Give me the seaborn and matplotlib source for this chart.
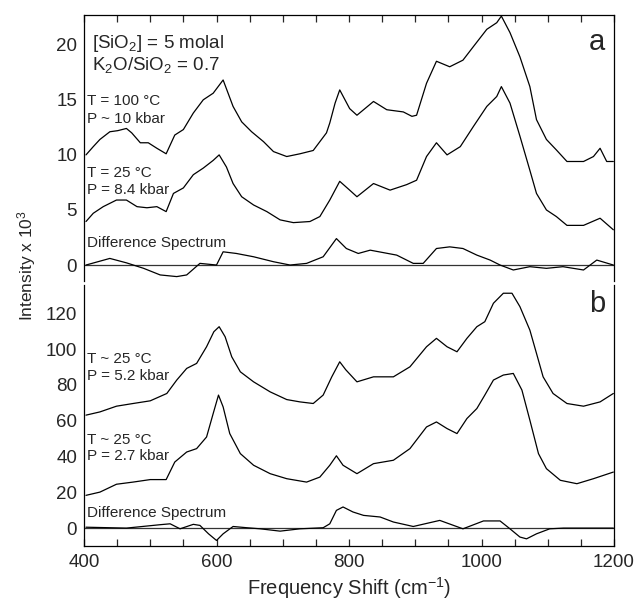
import matplotlib
matplotlib.use("Agg")
import matplotlib.pyplot as plt
from matplotlib.ticker import MultipleLocator
import seaborn as sns
import pandas as pd

# ---- data ----
# Panel a
a_hot_x = [403, 414, 424, 439, 451, 464, 472, 485, 497, 510, 524, 537, 550, 565, 580, 595, 610, 625, 638, 653,
           671, 686, 706, 726, 746, 766, 771, 779, 786, 801, 812, 837, 857, 882, 895, 902, 917, 932, 952, 972,
           988, 1008, 1023, 1030, 1043, 1058, 1073, 1083, 1098, 1113, 1129, 1154, 1169, 1179, 1189, 1199]
a_hot_y = [10.0, 10.75, 11.4, 12.1, 12.2, 12.4, 12.0, 11.1, 11.1, 10.6, 10.1, 11.8, 12.3, 13.8, 15.0, 15.6, 16.8, 14.4, 13.0, 12.1,
           11.2, 10.3, 9.85, 10.1, 10.4, 12.0, 12.9, 14.7, 15.9, 14.2, 13.6, 14.85, 14.1, 13.9, 13.5, 13.6, 16.5, 18.5, 18.0, 18.6,
           19.85, 21.4, 22.0, 22.6, 21.1, 18.9, 16.2, 13.2, 11.4, 10.45, 9.4, 9.4, 9.85, 10.6, 9.4, 9.4]

a_cold_x = [403, 414, 429, 449, 464, 480, 495, 510, 524, 535, 550, 565, 580, 595, 604, 615, 625, 638, 656, 676,
            696, 716, 741, 756, 771, 786, 801, 812, 837, 862, 887, 902, 917, 932, 948, 968, 988, 1008, 1023, 1030,
            1043, 1058, 1073, 1083, 1098, 1113, 1129, 1154, 1179, 1199]
a_cold_y = [3.95, 4.7, 5.3, 5.9, 5.9, 5.3, 5.2, 5.3, 4.85, 6.5, 7.0, 8.2, 8.8, 9.5, 10.0, 8.9, 7.4, 6.2, 5.45, 4.85,
            4.1, 3.85, 3.95, 4.4, 5.9, 7.6, 6.8, 6.2, 7.4, 6.8, 7.3, 7.7, 9.85, 11.1, 10.0, 10.75, 12.6, 14.4, 15.3, 16.2,
            14.7, 11.7, 8.6, 6.5, 5.0, 4.4, 3.6, 3.6, 4.25, 3.2]

a_diff_x = [403, 439, 464, 490, 515, 540, 555, 575, 600, 610, 630, 656, 686, 711, 736, 761, 781, 796, 814, 832,
            872, 897, 912, 932, 952, 972, 993, 1013, 1028, 1048, 1073, 1098, 1123, 1154, 1174, 1199]
a_diff_y = [0.0, 0.6, 0.2, -0.3, -0.9, -1.05, -0.9, 0.15, 0.0, 1.2, 1.05, 0.75, 0.3, 0.0, 0.15, 0.75, 2.4, 1.5, 1.05, 1.35,
            0.9, 0.15, 0.15, 1.5, 1.65, 1.5, 0.9, 0.45, 0.0, -0.45, -0.15, -0.3, -0.15, -0.45, 0.45, 0.0]

# Panel b
b_hi_x = [403, 424, 449, 474, 500, 525, 540, 555, 570, 585, 596, 604, 613, 623, 636, 656, 681, 706, 726, 746,
          761, 774, 786, 795, 812, 837, 867, 892, 917, 932, 948, 963, 978, 993, 1005, 1018, 1033, 1046, 1058, 1073,
          1083, 1093, 1108, 1129, 1154, 1179, 1199]
b_hi_y = [63.1, 64.9, 68.1, 69.6, 71.1, 75.2, 82.7, 89.2, 92.0, 101.3, 109.7, 112.5, 106.9, 95.7, 87.3, 81.7, 76.1, 71.8, 70.5, 69.6,
          74.3, 84.5, 92.9, 88.5, 81.7, 84.5, 84.5, 90.1, 101.3, 106.0, 101.3, 98.5, 106.0, 112.5, 115.3, 125.6, 131.2, 131.2, 123.7, 110.6,
          97.6, 84.5, 75.2, 69.6, 68.1, 70.5, 75.2]

b_lo_x = [403, 424, 449, 474, 500, 524, 537, 555, 570, 585, 595, 603, 610, 620, 636, 656, 681, 706, 736, 756,
          771, 781, 791, 812, 837, 867, 892, 917, 932, 948, 963, 978, 993, 1005, 1018, 1033, 1048, 1061, 1073, 1086,
          1098, 1119, 1144, 1169, 1199]
b_lo_y = [18.3, 20.1, 24.5, 25.7, 27.1, 27.1, 36.9, 42.5, 44.4, 50.9, 64.0, 74.3, 67.7, 52.8, 41.6, 35.1, 30.4, 27.6, 25.7, 28.5,
          35.1, 40.4, 35.1, 30.4, 36.0, 37.9, 44.4, 56.5, 59.3, 55.6, 52.8, 61.2, 66.8, 74.3, 82.7, 85.5, 86.4, 77.1, 60.3, 41.6,
          33.2, 26.7, 24.8, 27.6, 31.3]

b_diff_x = [403, 464, 515, 530, 545, 565, 575, 588, 600, 610, 625, 646, 666, 696, 726, 761, 771, 781, 791, 806,
            822, 847, 867, 897, 937, 972, 1003, 1028, 1043, 1058, 1068, 1083, 1103, 1124, 1164, 1199]
b_diff_y = [0.5, 0.0, 1.9, 2.4, -0.4, 2.1, 1.5, -3.2, -6.9, -3.2, 0.9, 0.2, -0.4, -1.7, -0.4, 0.2, 2.4, 9.9, 11.8, 9.0,
            7.1, 6.2, 3.4, 0.9, 4.3, -0.4, 4.0, 4.0, -0.4, -5.0, -6.0, -3.2, -0.4, 0.0, 0.0, 0.0]

x_ticks = [400, 600, 800, 1000, 1200]
a_yticks = [0, 5, 10, 15, 20]
b_yticks = [0, 20, 40, 60, 80, 100, 120]

# ---- style ----
sns.set_theme(style="ticks")
plt.rcParams["font.family"] = ["Liberation Sans", "DejaVu Sans"]
plt.rcParams["mathtext.fontset"] = "custom"
plt.rcParams["mathtext.rm"] = "Liberation Sans"
plt.rcParams["mathtext.it"] = "Liberation Sans"
plt.rcParams["mathtext.default"] = "regular"

fig = plt.figure(figsize=(6.38, 6.04), dpi=100)
L, R = 84 / 638, 614 / 638
ax_a = fig.add_axes([L, 1 - 281 / 604, R - L, (281 - 15) / 604])
ax_b = fig.add_axes([L, 1 - 546 / 604, R - L, (546 - 285) / 604])

LW = 0.9
def draw(ax, xs, ys):
    df = pd.DataFrame({"f": xs, "v": ys})
    sns.lineplot(data=df, x="f", y="v", ax=ax, color="black", linewidth=LW,
                 sort=False, estimator=None)

draw(ax_a, a_hot_x, a_hot_y)
draw(ax_a, a_cold_x, a_cold_y)
draw(ax_a, a_diff_x, a_diff_y)
draw(ax_b, b_hi_x, b_hi_y)
draw(ax_b, b_lo_x, b_lo_y)
draw(ax_b, b_diff_x, b_diff_y)

TICKFS = 13.5
for ax in (ax_a, ax_b):
    ax.axhline(0, color="#333333", linewidth=0.9, zorder=1)
    ax.set_xlim(400, 1200)
    ax.set_xlabel("")
    ax.set_ylabel("")
    ax.xaxis.set_major_locator(MultipleLocator(200))
    ax.xaxis.set_minor_locator(MultipleLocator(50))
    ax.tick_params(axis="y", length=0, labelsize=TICKFS, pad=5)
    for s in ax.spines.values():
        s.set_linewidth(0.9)
        s.set_color("black")

ax_a.set_ylim(-1.45, 22.7)
ax_a.set_yticks(a_yticks)
ax_a.spines["bottom"].set_visible(False)
ax_a.tick_params(axis="x", which="both", direction="in", top=True, bottom=False,
                 labeltop=False, labelbottom=False, length=5, width=0.9)

ax_b.set_ylim(-10, 135.8)
ax_b.set_yticks(b_yticks)
ax_b.spines["top"].set_visible(False)
ax_b.set_xticks(x_ticks)
ax_b.tick_params(axis="x", which="both", direction="in", top=False, bottom=True,
                 length=5, width=0.9, labelsize=TICKFS, pad=6)

# ---- annotations ----
fs = 11
ax_a.text(412, 19.7, "[SiO$_2$] = 5 molal", fontsize=13.5)
ax_a.text(412, 17.7, "K$_2$O/SiO$_2$ = 0.7", fontsize=13.5)
ax_a.text(1187, 19.5, "a", fontsize=21, ha="right")
ax_a.text(404, 14.55, "T = 100 °C", fontsize=fs)
ax_a.text(404, 12.9, "P ~ 10 kbar", fontsize=fs)
ax_a.text(404, 8.0, "T = 25 °C", fontsize=fs)
ax_a.text(404, 6.45, "P = 8.4 kbar", fontsize=fs)
ax_a.text(404, 1.65, "Difference Spectrum", fontsize=fs)

ax_b.text(1187, 120.9, "b", fontsize=21, ha="right")
ax_b.text(405, 92.0, "T ~ 25 °C", fontsize=fs)
ax_b.text(405, 82.7, "P = 5.2 kbar", fontsize=fs)
ax_b.text(405, 47.2, "T ~ 25 °C", fontsize=fs)
ax_b.text(405, 37.9, "P = 2.7 kbar", fontsize=fs)
ax_b.text(405, 6.2, "Difference Spectrum", fontsize=fs)

fig.text(0.041, 0.56, "Intensity x 10$^3$", rotation=90, ha="center", va="center", fontsize=12.5)
fig.text((L + R) / 2, 0.027, "Frequency Shift (cm$^{-1}$)", ha="center", va="center", fontsize=14.5)

fig.savefig("out.png", dpi=100)
